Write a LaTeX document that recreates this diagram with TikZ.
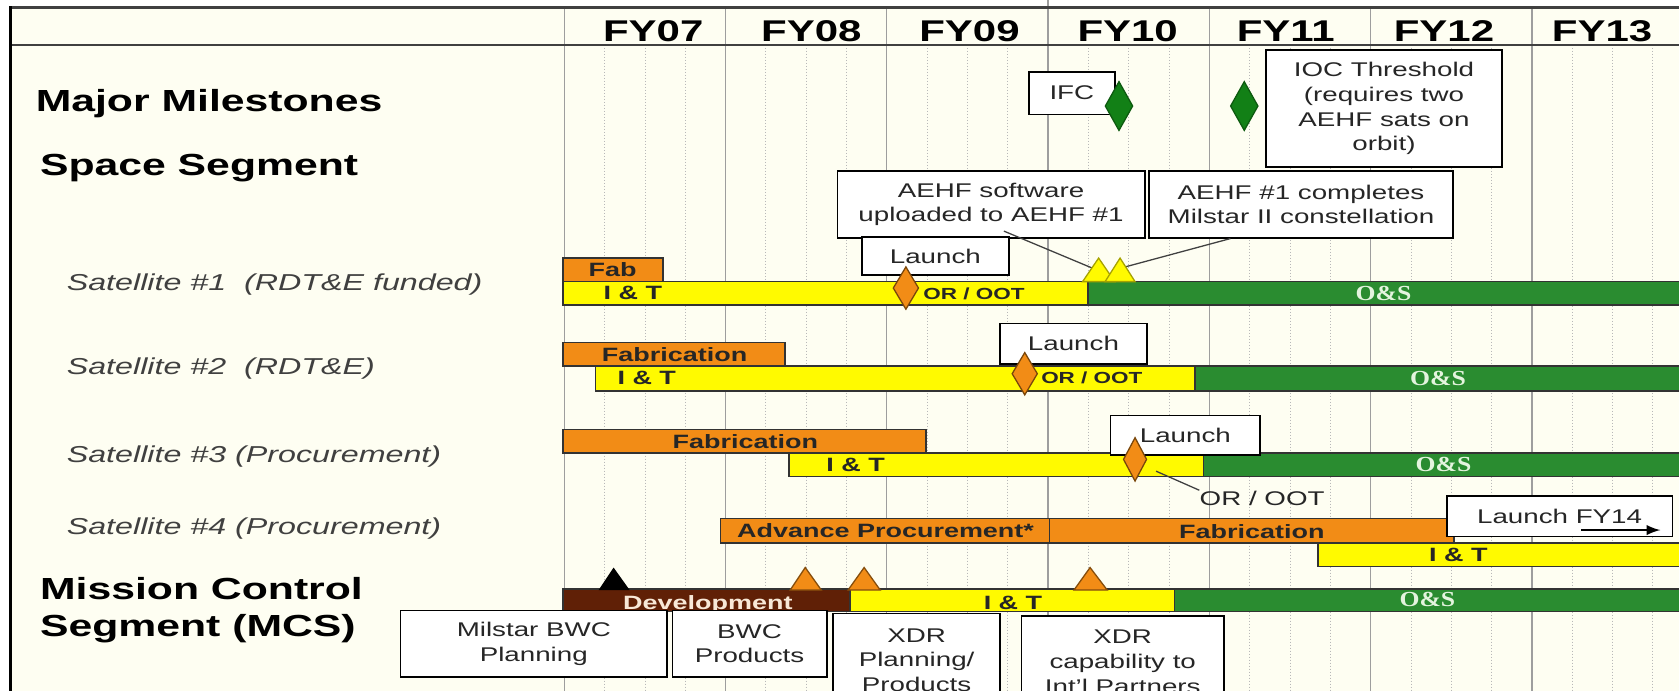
\documentclass[tikz,border=0pt]{standalone}
\usepackage{fontspec}
\setmainfont{Liberation Sans}[FakeStretch=1.4]
\newfontfamily\serifbold{Liberation Serif}[FakeStretch=1.2]
\usepackage{tikz}
\usetikzlibrary{shapes.geometric, calc}
\definecolor{chartbg}{RGB}{254,254,242}
\definecolor{fabcol}{RGB}{242,140,22}
\definecolor{itcol}{RGB}{255,250,0}
\definecolor{oscol}{RGB}{42,140,48}
\definecolor{devcol}{RGB}{96,32,6}
\definecolor{mscol}{RGB}{18,128,22}
\definecolor{ostext}{RGB}{228,244,222}
\definecolor{devtext}{RGB}{248,232,215}
\definecolor{gridcol}{gray}{0.62}
\definecolor{qtrcol}{gray}{0.72}
\definecolor{boxtext}{gray}{0.15}
\definecolor{rowtext}{gray}{0.25}
\newcommand{\segfont}{\fontsize{14.25}{17.5}\selectfont\bfseries}
\newcommand{\yrfont}{\fontsize{14}{16}\selectfont\bfseries}
\newcommand{\rowfont}{\fontsize{10.75}{13}\selectfont\itshape}
\newcommand{\barfont}{\fontsize{9}{11}\selectfont\bfseries}
\newcommand{\ootfont}{\fontsize{7.5}{9}\selectfont\bfseries}
\newcommand{\osfont}{\fontsize{10}{11}\selectfont\serifbold\bfseries}
\newcommand{\boxfont}{\fontsize{9.25}{11.5}\selectfont}

\begin{document}
\begin{tikzpicture}[x=0.5pt, y=-0.5pt,
		bar/.style={draw=black!80, line width=0.7pt},
		barlbl/.style={font=\barfont, text=black!85, inner sep=0pt},
		oslbl/.style={font=\osfont, text=ostext, inner sep=0pt},
		rowlbl/.style={anchor=west, font=\rowfont, text=rowtext, inner sep=0pt},
		seglbl/.style={anchor=west, font=\segfont, align=left, inner sep=0pt},
		yrlbl/.style={font=\yrfont, inner sep=0pt},
		callout/.style={draw=black, line width=0.8pt, fill=white, text=boxtext, font=\boxfont, align=center, inner sep=0pt},
		calline/.style={draw=black!75, line width=0.6pt},
		launchdia/.style={diamond, draw=black!50!fabcol, fill=fabcol, line width=0.6pt, minimum width=12pt, minimum height=20pt, inner sep=0pt},
		msdia/.style={diamond, draw=black!30!mscol, fill=mscol, line width=0.6pt, minimum width=13pt, minimum height=23pt, inner sep=0pt},
		yeltri/.style={draw=black!35!itcol, fill=itcol, line width=0.6pt},
		orgtri/.style={draw=black!45!fabcol, fill=fabcol, line width=0.6pt}]

		% frame and background
		\fill[white] (0,0) rectangle (1568,645);
		\fill[chartbg] (10,7) rectangle (1568,645);
		\useasboundingbox (0,0) rectangle (1568,645);

		% quarter and year lines
		\foreach \k in {0,...,6}
			\foreach \q in {1,2,3}
				\draw[qtrcol, line width=0.4pt, densely dotted] ({527+150.6*\k+37.65*\q},42) -- ({527+150.6*\k+37.65*\q},645);
		\foreach \k in {0,...,6}
			\draw[gridcol, line width=0.6pt] ({527+150.6*\k},7) -- ({527+150.6*\k},645);
		\draw[gridcol, line width=0.6pt] (978.8,0) -- (978.8,7);

		\draw[black!75, line width=1pt] (10,7) -- (1568,7);
		\draw[black!75, line width=1pt] (10,42) -- (1568,42);
		\draw[black, line width=1.5pt] (10,6) -- (10,645);

		\foreach \lbl [count=\k from 0] in {FY07,FY08,FY09,FY10,FY11,FY12,FY13}
			\node[yrlbl] (\lbl) at ({610+147.7*\k},29) {\lbl};

		% left column
		\node[seglbl] (msl) at (33,97) {Major Milestones};
		\node[seglbl] (ssl) at (37,157) {Space Segment};
		\node[rowlbl] (sat1) at (62,266) {Satellite \#1~ (RDT\&E funded)};
		\node[rowlbl] (sat2) at (62,344) {Satellite \#2~ (RDT\&E)};
		\node[rowlbl] (sat3) at (62,426) {Satellite \#3 (Procurement)};
		\node[rowlbl] (sat4) at (62,494) {Satellite \#4 (Procurement)};
		\node[seglbl] (mcsl) at (37,570) {Mission Control\\Segment (MCS)};

		% major milestones
		\node[callout, minimum width=40pt, minimum height=20pt] (ifcbox) at (1001,87) {IFC};
		\node[msdia] (ifcdia) at (1045,99) {};
		\node[msdia] (iocdia) at (1162,99) {};
		\node[callout, minimum width=110.5pt, minimum height=54.5pt] (iocbox) at (1292.5,101.5) {IOC Threshold\\(requires two\\AEHF sats on\\orbit)};

		% satellite 1
		\draw[bar, fill=fabcol] (526,241) rectangle (619,263);
		\draw[bar, fill=itcol] (526,263) rectangle (1016,285);
		\draw[bar, fill=oscol] (1016,263) rectangle (1572,285);
		\node[barlbl] (s1fab) at (572,252) {Fab};
		\node[barlbl] (s1it) at (591,274) {I \& T};
		\node[barlbl, font=\ootfont, anchor=west] (s1oot) at (862,274) {OR / OOT};
		\node[oslbl] (s1os) at (1292,274) {O\&S};
		\node[callout, minimum width=143.5pt, minimum height=31pt] (swbox) at (925.5,191) {AEHF software\\uploaded to AEHF \#1};
		\node[callout, minimum width=142pt, minimum height=31pt] (cmpbox) at (1215,191) {AEHF \#1 completes\\Milstar II constellation};
		\node[callout, minimum width=68.5pt, minimum height=18pt] (s1lnch) at (873.5,239) {Launch};
		\node[launchdia] (s1dia) at (846,269) {};
		\coordinate (swtip) at (1024,252);
		\coordinate (cmptip) at (1048,250);
		\draw[calline] ($(swbox.south)+(12,-7)$) -- (swtip);
		\draw[calline] ($(cmpbox.south)+(-66,0)$) -- (cmptip);
		\draw[yeltri] (1011,263) -- (1026,241) -- (1041,263) -- cycle;
		\draw[yeltri] (1032,263) -- (1046,241) -- (1060,263) -- cycle;

		% satellite 2
		\draw[bar, fill=fabcol] (526,320) rectangle (733,342);
		\draw[bar, fill=itcol] (556,342) rectangle (1116,365);
		\draw[bar, fill=oscol] (1116,342) rectangle (1572,365);
		\node[barlbl] (s2fab) at (630,331) {Fabrication};
		\node[barlbl] (s2it) at (604,353) {I \& T};
		\node[barlbl, font=\ootfont, anchor=west] (s2oot) at (972,353) {OR / OOT};
		\node[oslbl] (s2os) at (1343,353) {O\&S};
		\node[callout, minimum width=68.5pt, minimum height=19pt] (s2lnch) at (1002.5,321) {Launch};
		\node[launchdia] (s2dia) at (957,349) {};

		% satellite 3
		\draw[bar, fill=fabcol] (526,401) rectangle (865,423);
		\draw[bar, fill=itcol] (737,423) rectangle (1124,445);
		\draw[bar, fill=oscol] (1124,423) rectangle (1572,445);
		\node[barlbl] (s3fab) at (696,412) {Fabrication};
		\node[barlbl] (s3it) at (799,434) {I \& T};
		\node[oslbl] (s3os) at (1348,434) {O\&S};
		\node[callout, minimum width=70pt, minimum height=18.5pt] (s3lnch) at (1107,406.5) {Launch};
		\node[launchdia, minimum width=11pt, minimum height=20.5pt] (s3dia) at (1060,429) {};
		\node[font=\boxfont, text=boxtext, anchor=west, inner sep=0pt] (s3oot) at (1120,465) {OR / OOT};
		\draw[calline] ($(s3dia.east)+(8,11)$) -- (s3oot.north west);

		% satellite 4
		\draw[bar, fill=fabcol] (673,484) rectangle (980,507);
		\draw[bar, fill=fabcol] (980,484) rectangle (1358,507);
		\draw[bar, fill=itcol] (1231,507) rectangle (1572,529);
		\node[barlbl] (s4adv) at (827,495.5) {Advance Procurement*};
		\node[barlbl] (s4fab) at (1169,496) {Fabrication};
		\node[barlbl] (s4it) at (1362,518) {I \& T};
		\node[callout, minimum width=105.5pt, minimum height=19pt] (fy14box) at (1456.5,482) {Launch FY14};
		\coordinate (fy14from) at ($(fy14box.center)+(20,13)$);
		\coordinate (fy14to) at ($(fy14box.center)+(94,13)$);
		\draw[-latex, line width=1.2pt] (fy14from) -- (fy14to);

		% mission control segment
		\draw[bar, fill=devcol] (526,550) rectangle (794,571);
		\draw[bar, fill=itcol] (794,550) rectangle (1097,571);
		\draw[bar, fill=oscol] (1097,550) rectangle (1572,571);
		\node[barlbl, text=devtext] (mcsdev) at (661,565) {Development};
		\node[barlbl] (mcsit) at (946,563) {I \& T};
		\node[oslbl] (mcsos) at (1333,560) {O\&S};
		\fill[black] (559,551) -- (573,530) -- (588,551) -- cycle;
		\draw[orgtri] (738,551) -- (752,530) -- (767,551) -- cycle;
		\draw[orgtri] (792,551) -- (807,530) -- (822,551) -- cycle;
		\draw[orgtri] (1003,551) -- (1018,530) -- (1034,551) -- cycle;
		\node[callout, minimum width=124.5pt, minimum height=31pt] (bwcplan) at (498.5,601) {Milstar BWC\\Planning};
		\node[callout, minimum width=72pt, minimum height=31pt] (bwcprod) at (700,601) {BWC\\Products};
		\node[callout, minimum width=78pt, minimum height=43.5pt] (xdrplan) at (856,616.5) {XDR\\Planning/\\Products};
		\node[callout, minimum width=94.5pt, minimum height=43pt] (xdrcap) at (1048.5,618) {XDR\\capability to\\Int'l Partners};
	\end{tikzpicture}
\end{document}
